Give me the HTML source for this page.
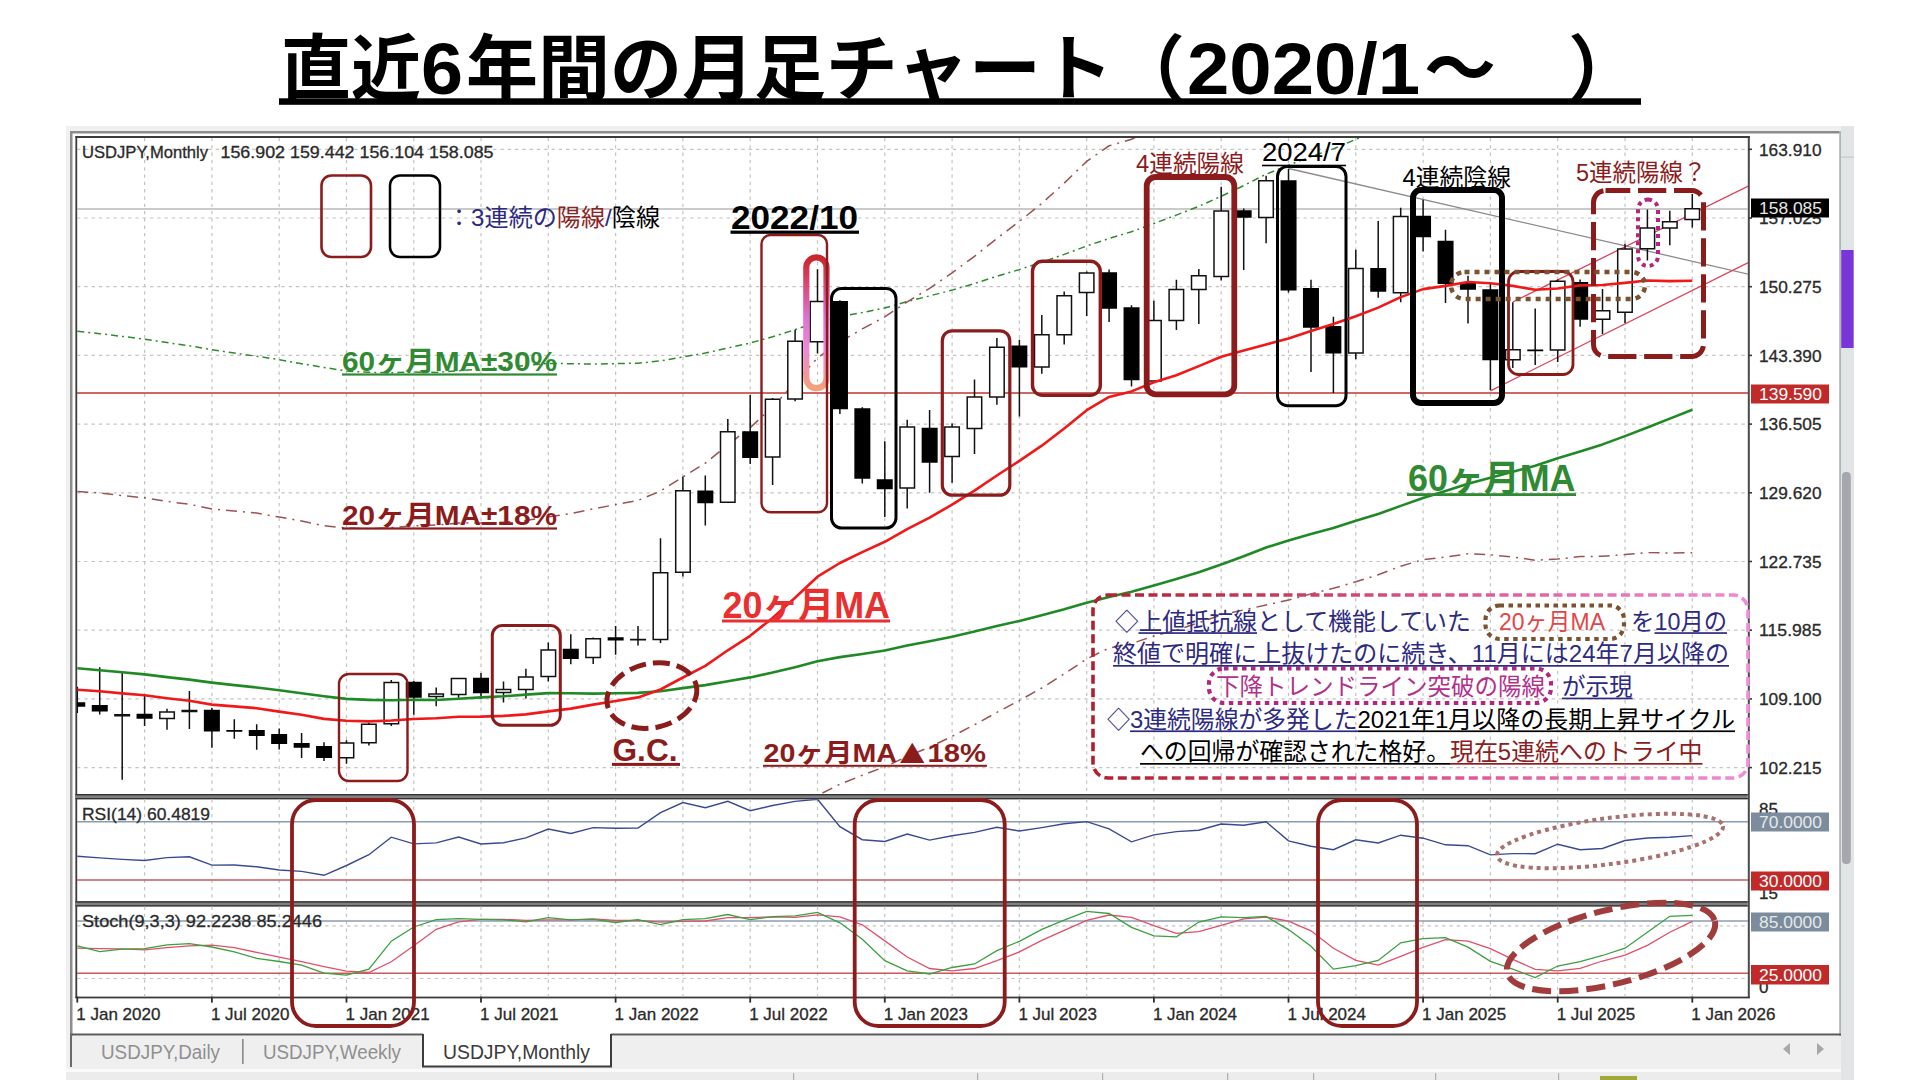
<!DOCTYPE html>
<html lang="ja"><head><meta charset="utf-8"><title>直近6年間の月足チャート</title>
<style>html,body{margin:0;padding:0;background:#fff;}body{width:1920px;height:1080px;overflow:hidden;font-family:"Liberation Sans","Noto Sans CJK JP",sans-serif;}svg{display:block;}text{white-space:pre;}</style>
</head><body>
<svg width="1920" height="1080" viewBox="0 0 1920 1080">
<rect width="1920" height="1080" fill="#fff"/>
<defs>
<clipPath id="cm"><rect x="77" y="138" width="1671" height="656"/></clipPath>
<clipPath id="cr"><rect x="77" y="799.3" width="1671" height="101.90000000000009"/></clipPath>
<clipPath id="cs"><rect x="77" y="906.5" width="1671" height="90.10000000000002"/></clipPath>
<linearGradient id="gcap" x1="0" y1="0" x2="0" y2="1"><stop offset="0" stop-color="#c9252c"/><stop offset="0.12" stop-color="#d23a55"/><stop offset="0.45" stop-color="#e070d0"/><stop offset="0.7" stop-color="#ee88d8"/><stop offset="1" stop-color="#f6a07c"/></linearGradient>
<linearGradient id="gbox" x1="0" y1="0" x2="1" y2="0"><stop offset="0" stop-color="#b0202c"/><stop offset="0.5" stop-color="#dc5088"/><stop offset="1" stop-color="#f08cd8"/></linearGradient>
</defs>
<rect x="66" y="126" width="1788" height="954" fill="#f0f0f0"/>
<rect x="70" y="131" width="1771" height="905" fill="#ffffff"/>
<rect x="70" y="131" width="1771" height="2.5" fill="#8c8c8c"/>
<rect x="70" y="131" width="2.5" height="905" fill="#8c8c8c"/>
<rect x="1839.2" y="131" width="2" height="905" fill="#b0b6b6"/>
<rect x="1841" y="126" width="13" height="954" fill="#e1e5e6"/><rect x="1841" y="156.5" width="13" height="1.2" fill="#c4c9c9"/>
<rect x="1841.2" y="250" width="12.4" height="98" fill="#7a35d8"/>
<rect x="1842" y="472" width="8.8" height="392" rx="4" fill="#a6a6ae"/>
<rect x="70" y="1036" width="1771" height="33" fill="#efefef"/>
<rect x="66" y="1069" width="1775" height="3" fill="#fafafa"/>
<rect x="66" y="1072" width="1775" height="8" fill="#ececec"/>
<rect x="70" y="1033.5" width="1771" height="2" fill="#5a5a5a"/>
<rect x="70" y="1034" width="2" height="33" fill="#6a6a6a"/>
<rect x="423" y="1032" width="188" height="34" fill="#ffffff"/>
<path d="M423 1034 V1066.5 H611 V1034" fill="none" stroke="#3c3c3c" stroke-width="2"/>
<rect x="242" y="1039" width="1.6" height="25" fill="#8a8a8a"/>
<text x="101" y="1058.5" font-family="Liberation Sans, Noto Sans CJK JP, sans-serif" font-size="20" fill="#8f8f8f" textLength="119" lengthAdjust="spacingAndGlyphs">USDJPY,Daily</text>
<text x="263" y="1058.5" font-family="Liberation Sans, Noto Sans CJK JP, sans-serif" font-size="20" fill="#8f8f8f" textLength="138" lengthAdjust="spacingAndGlyphs">USDJPY,Weekly</text>
<text x="443" y="1058.5" font-family="Liberation Sans, Noto Sans CJK JP, sans-serif" font-size="20" fill="#3a3a3a" textLength="147" lengthAdjust="spacingAndGlyphs">USDJPY,Monthly</text>
<path d="M1783 1049 l7 -6 v12 z M1824 1049 l-7 -6 v12 z" fill="#a8a8a8"/>
<rect x="1600" y="1076" width="37" height="4" fill="#a0a83c"/>
<rect x="793" y="1073" width="1.2" height="7" fill="#b0b0b0"/>
<rect x="977" y="1073" width="1.2" height="7" fill="#b0b0b0"/>
<rect x="1102" y="1073" width="1.2" height="7" fill="#b0b0b0"/>
<rect x="1227" y="1073" width="1.2" height="7" fill="#b0b0b0"/>
<rect x="1313" y="1073" width="1.2" height="7" fill="#b0b0b0"/>
<rect x="1435" y="1073" width="1.2" height="7" fill="#b0b0b0"/>
<rect x="1558" y="1073" width="1.2" height="7" fill="#b0b0b0"/>
<rect x="75.4" y="136" width="1674.4" height="862" fill="#fff"/>
<rect x="75.4" y="136" width="1.8" height="862" fill="#3c3c3c"/>
<rect x="1747.8" y="136" width="2" height="862" fill="#4a4a4a"/>
<rect x="75.4" y="136" width="1674.4" height="2" fill="#3c3c3c"/>
<rect x="75.4" y="996.6" width="1674.4" height="1.8" fill="#3c3c3c"/>
<rect x="75.4" y="794" width="1672.4" height="5.2" fill="#808080"/>
<rect x="75.4" y="794" width="1672.4" height="1.4" fill="#333"/>
<rect x="75.4" y="798" width="1672.4" height="1.3" fill="#333"/>
<rect x="75.4" y="901.2" width="1672.4" height="5.2" fill="#808080"/>
<rect x="75.4" y="901.2" width="1672.4" height="1.4" fill="#333"/>
<rect x="75.4" y="905.2" width="1672.4" height="1.3" fill="#333"/>
<path d="M144.6 138V794M144.6 799.3V901.2M144.6 906.5V996.6M211.9 138V794M211.9 799.3V901.2M211.9 906.5V996.6M279.2 138V794M279.2 799.3V901.2M279.2 906.5V996.6M346.5 138V794M346.5 799.3V901.2M346.5 906.5V996.6M413.8 138V794M413.8 799.3V901.2M413.8 906.5V996.6M481 138V794M481 799.3V901.2M481 906.5V996.6M548.3 138V794M548.3 799.3V901.2M548.3 906.5V996.6M615.6 138V794M615.6 799.3V901.2M615.6 906.5V996.6M682.9 138V794M682.9 799.3V901.2M682.9 906.5V996.6M750.2 138V794M750.2 799.3V901.2M750.2 906.5V996.6M817.5 138V794M817.5 799.3V901.2M817.5 906.5V996.6M884.8 138V794M884.8 799.3V901.2M884.8 906.5V996.6M952.1 138V794M952.1 799.3V901.2M952.1 906.5V996.6M1019.4 138V794M1019.4 799.3V901.2M1019.4 906.5V996.6M1086.7 138V794M1086.7 799.3V901.2M1086.7 906.5V996.6M1153.9 138V794M1153.9 799.3V901.2M1153.9 906.5V996.6M1221.2 138V794M1221.2 799.3V901.2M1221.2 906.5V996.6M1288.5 138V794M1288.5 799.3V901.2M1288.5 906.5V996.6M1355.8 138V794M1355.8 799.3V901.2M1355.8 906.5V996.6M1423.1 138V794M1423.1 799.3V901.2M1423.1 906.5V996.6M1490.4 138V794M1490.4 799.3V901.2M1490.4 906.5V996.6M1557.7 138V794M1557.7 799.3V901.2M1557.7 906.5V996.6M1625 138V794M1625 799.3V901.2M1625 906.5V996.6M1692.3 138V794M1692.3 799.3V901.2M1692.3 906.5V996.6M77 149.3H1748M77 218H1748M77 286.7H1748M77 355.4H1748M77 424.1H1748M77 492.8H1748M77 561.5H1748M77 630.2H1748M77 698.9H1748M77 767.6H1748M77 925.9H1748M77 978.5H1748" fill="none" stroke="#c4c4c4" stroke-width="1.2" stroke-dasharray="3.3 4"/>
<g clip-path="url(#cm)">
<path d="M77 209H1748" stroke="#b8b8b8" stroke-width="1.6"/>
<path d="M77 393H1748" stroke="#c03434" stroke-width="1.3"/>
<polyline points="77.3,331.2 99.7,333.7 122.2,336.4 144.6,339.1 167,342.6 189.4,345.8 211.9,349.7 234.3,353.1 256.7,356.2 279.2,359.7 301.6,363.7 324,367.4 346.5,371 368.9,372.3 391.3,372.7 413.8,372.1 436.2,372.4 458.6,370.7 481,369 503.5,367.6 525.9,365.4 548.3,363.4 570.8,363.7 593.2,364.1 615.6,363.6 638,363.2 660.5,360.9 682.9,356.9 705.3,353.1 727.8,348 750.2,343 772.6,336.7 795.1,329.7 817.5,322.1 839.9,316.6 862.3,312.6 884.8,308 907.2,301.6 929.6,295.9 952.1,290.1 974.5,283.5 996.9,276.2 1019.4,269.6 1041.8,262.2 1064.2,254.4 1086.7,246 1109.1,238.5 1131.5,231.7 1153.9,223.5 1176.4,215.1 1198.8,206.3 1221.2,196.3 1243.7,185.6 1266.1,174.2 1288.5,165.2 1311,156.6 1333.4,148.9 1355.8,139.3 1378.2,130.6 1400.7,120 1423.1,109.8 1445.5,100.6 1468,91.4 1490.4,83.6 1512.8,75.7 1535.2,67.9 1557.7,58.2 1580.1,49.3 1602.5,40.1 1625,29.4 1647.4,18.1 1669.8,6.5 1692.3,-5" fill="none" stroke="#2f8a2f" stroke-width="1.5" stroke-dasharray="7 4 2 4"/>
<polyline points="77.3,491.4 99.7,493 122.2,495.6 144.6,497.9 167,501.4 189.4,504.3 211.9,508.9 234.3,511 256.7,513.1 279.2,517.1 301.6,520.9 324,525.8 346.5,527.9 368.9,528.7 391.3,527.6 413.8,525.8 436.2,525 458.6,523.1 481,523 503.5,522.2 525.9,520.5 548.3,516.9 570.8,513.5 593.2,508.9 615.6,504.6 638,500.4 660.5,491.1 682.9,476.9 705.3,463.2 727.8,444.8 750.2,427.7 772.6,406.6 795.1,382.9 817.5,358 839.9,341.8 862.3,328.9 884.8,316.8 907.2,301.9 929.6,288.3 952.1,272.8 974.5,256.3 996.9,238.5 1019.4,221.3 1041.8,203.4 1064.2,183.1 1086.7,161.4 1109.1,145.8 1131.5,139.3 1153.9,128.5 1176.4,120.1 1198.8,109.4 1221.2,98.3 1243.7,91 1266.1,83.8 1288.5,76.8 1311,67.9 1333.4,59.9 1355.8,50.5 1378.2,40.4 1400.7,28 1423.1,18.6 1445.5,14.8 1468,10.2 1490.4,11.6 1512.8,14.8 1535.2,19.4 1557.7,17.8 1580.1,14.3 1602.5,13.7 1625,11.3 1647.4,8.5 1669.8,9.1 1692.3,8.6" fill="none" stroke="#9c5252" stroke-width="1.5" stroke-dasharray="11 6 2 6"/>
<polyline points="77.3,888.2 99.7,889.3 122.2,891.1 144.6,892.7 167,895.1 189.4,897.2 211.9,900.3 234.3,901.8 256.7,903.3 279.2,906 301.6,908.7 324,912.1 346.5,913.6 368.9,914.1 391.3,913.3 413.8,912.1 436.2,911.5 458.6,910.3 481,910.2 503.5,909.6 525.9,908.4 548.3,905.9 570.8,903.6 593.2,900.3 615.6,897.4 638,894.5 660.5,888 682.9,878.1 705.3,868.6 727.8,855.8 750.2,843.9 772.6,829.3 795.1,812.8 817.5,795.5 839.9,784.2 862.3,775.3 884.8,766.8 907.2,756.5 929.6,747.1 952.1,736.3 974.5,724.8 996.9,712.4 1019.4,700.5 1041.8,688 1064.2,673.9 1086.7,658.9 1109.1,648 1131.5,643.5 1153.9,636 1176.4,630.2 1198.8,622.7 1221.2,615 1243.7,609.9 1266.1,605 1288.5,600.1 1311,593.9 1333.4,588.3 1355.8,581.8 1378.2,574.8 1400.7,566.2 1423.1,559.6 1445.5,557 1468,553.8 1490.4,554.8 1512.8,557 1535.2,560.2 1557.7,559.1 1580.1,556.6 1602.5,556.2 1625,554.6 1647.4,552.6 1669.8,553.1 1692.3,552.7" fill="none" stroke="#9c5252" stroke-width="1.5" stroke-dasharray="11 6 2 6"/>
<path d="M1288.5 168.5 L1749 274.3" stroke="#8c8c8c" stroke-width="1.3"/>
<path d="M1512.8 302 L1749 185.8" stroke="#e0405a" stroke-width="1.3"/>
<path d="M1490.4 390.8 L1749 262.3" stroke="#e0405a" stroke-width="1.3"/>
<path d="M77.3 686.7V713.1M99.7 667.2V714.5M122.2 672.4V779.8M144.6 695.8V726.1M167 708.8V729.8M189.4 691.1V729M211.9 708V747.8M234.3 719.2V738.7M256.7 724.2V749.7M279.2 728.6V749.4M301.6 732.9V757.9M324 742.2V760.9M346.5 740.3V763.8M368.9 722.8V745.6M391.3 679.9V726M413.8 681.1V714.8M436.2 687.6V706.2M458.6 678.4V697.7M481 672.9V698.9M503.5 681.6V702.4M525.9 668.7V698.5M548.3 642.5V681.4M570.8 634.3V664.2M593.2 637.4V663.9M615.6 625.9V654.8M638 626V645.4M660.5 538.3V643M682.9 476.6V576.5M705.3 475.6V525.6M727.8 419V502.7M750.2 395V464.1M772.6 398.1V485.1M795.1 329.8V401.2M817.5 269.3V353.5M839.9 300.2V414M862.3 407.2V483.4M884.8 441.3V517M907.2 419.8V508.4M929.6 409.9V492.8M952.1 423.4V482.8M974.5 379.6V454.1M996.9 338.1V404.7M1019.4 339.7V416.6M1041.8 315.1V373.8M1064.2 291.6V344.4M1086.7 271.5V316.1M1109.1 269.6V322.1M1131.5 305.2V386.4M1153.9 300.7V381.9M1176.4 279.8V329.9M1198.8 269V324M1221.2 186.8V280.6M1243.7 208.6V270.1M1266.1 175.7V243.2M1288.5 168.9V292.6M1311 279.8V371.9M1333.4 316.7V393.1M1355.8 249.8V359.2M1378.2 221.1V297.8M1400.7 207.7V302.2M1423.1 199.8V251.4M1445.5 229.7V303M1468 275.7V323.4M1490.4 283.8V390M1512.8 302.2V367.9M1535.2 308.4V365.1M1557.7 279.5V362.1M1580.1 279.5V326.7M1602.5 289.1V334M1625 243.7V322.9M1647.4 209.6V260.4M1669.8 210.8V245.2M1692.3 194.1V227.5" stroke="#111" stroke-width="1.5" fill="none"/>
<path d="M114.9 714.8h14.5v1h-14.5zM159.8 711.9h14.5v6.7h-14.5zM182.2 710.4h14.5v1.2h-14.5zM339.2 742.9h14.5v14.8h-14.5zM361.6 724.2h14.5v18.5h-14.5zM384.1 682.6h14.5v41.1h-14.5zM428.9 694.1h14.5v2.5h-14.5zM451.4 678.6h14.5v16h-14.5zM496.2 689.6h14.5v3h-14.5zM518.6 676.9h14.5v12.7h-14.5zM541.1 650h14.5v26.6h-14.5zM585.9 638.7h14.5v18.8h-14.5zM630.8 639.5h14.5v0.2h-14.5zM653.2 572.7h14.5v66.7h-14.5zM675.7 490.8h14.5v81.5h-14.5zM720.5 431.8h14.5v70.4h-14.5zM765.4 399.3h14.5v57.7h-14.5zM787.8 341.3h14.5v57.6h-14.5zM810.2 301.6h14.5v40.2h-14.5zM900 427h14.5v61.1h-14.5zM944.8 427h14.5v29.6h-14.5zM967.2 396.9h14.5v31.6h-14.5zM989.7 347.3h14.5v49.6h-14.5zM1034.5 334.8h14.5v32.1h-14.5zM1057 295.7h14.5v39.1h-14.5zM1079.4 273h14.5v19.5h-14.5zM1146.7 320.5h14.5v60.4h-14.5zM1169.1 289.5h14.5v31h-14.5zM1191.5 275.7h14.5v13.8h-14.5zM1214 211h14.5v65.6h-14.5zM1258.8 180.7h14.5v36.9h-14.5zM1348.6 268.4h14.5v84.5h-14.5zM1393.4 216.5h14.5v76.2h-14.5zM1505.6 349.8h14.5v10h-14.5zM1550.4 281.2h14.5v68.9h-14.5zM1595.3 310.8h14.5v8.5h-14.5zM1617.7 249.1h14.5v63.1h-14.5zM1640.1 227.9h14.5v20.9h-14.5zM1662.6 221.8h14.5v6.1h-14.5zM1685 208.8h14.5v10.7h-14.5z" stroke="#111" stroke-width="1.5" fill="#fff"/>
<path d="M70 702.9h14.5v3.2h-14.5zM92.5 705.8h14.5v4.9h-14.5zM137.3 714.6h14.5v3.3h-14.5zM204.6 710.6h14.5v20.2h-14.5zM227.1 730.7h14.5v0.2h-14.5zM249.5 730.7h14.5v4.5h-14.5zM271.9 734.7h14.5v8.6h-14.5zM294.4 743.7h14.5v3.3h-14.5zM316.8 746.7h14.5v10.6h-14.5zM406.5 682.6h14.5v14.3h-14.5zM473.8 678.6h14.5v14h-14.5zM563.5 649.5h14.5v8.7h-14.5zM608.4 638.1h14.5v1.6h-14.5zM698.1 491.2h14.5v11.2h-14.5zM742.9 432h14.5v25.2h-14.5zM832.7 301.7h14.5v106.9h-14.5zM855.1 409h14.5v69.1h-14.5zM877.5 480.1h14.5v8.5h-14.5zM922.4 428.5h14.5v33.6h-14.5zM1012.1 346.3h14.5v20.5h-14.5zM1101.8 273h14.5v35.1h-14.5zM1124.3 308h14.5v71.5h-14.5zM1236.4 211h14.5v6h-14.5zM1281.3 181h14.5v108.7h-14.5zM1303.7 288.7h14.5v38.4h-14.5zM1326.1 326.8h14.5v25.9h-14.5zM1371 268.7h14.5v22.3h-14.5zM1415.8 216.5h14.5v20.1h-14.5zM1438.3 241.6h14.5v41.6h-14.5zM1460.7 282.7h14.5v6.4h-14.5zM1483.1 290h14.5v69.4h-14.5zM1528 350.3h14.5v0.3h-14.5zM1572.9 282.7h14.5v36.4h-14.5z" stroke="#000" stroke-width="1.5" fill="#000"/>
<polyline points="77.3,668.3 99.7,670.2 122.2,672.3 144.6,674.4 167,677.1 189.4,679.6 211.9,682.6 234.3,685.1 256.7,687.5 279.2,690.2 301.6,693.3 324,696.2 346.5,698.9 368.9,699.9 391.3,700.3 413.8,699.8 436.2,700 458.6,698.7 481,697.4 503.5,696.3 525.9,694.6 548.3,693.1 570.8,693.3 593.2,693.6 615.6,693.3 638,692.9 660.5,691.2 682.9,688.1 705.3,685.1 727.8,681.2 750.2,677.4 772.6,672.6 795.1,667.2 817.5,661.3 839.9,657.1 862.3,654 884.8,650.5 907.2,645.6 929.6,641.2 952.1,636.7 974.5,631.6 996.9,626 1019.4,620.9 1041.8,615.2 1064.2,609.3 1086.7,602.8 1109.1,597 1131.5,591.8 1153.9,585.4 1176.4,579 1198.8,572.2 1221.2,564.5 1243.7,556.3 1266.1,547.5 1288.5,540.6 1311,534 1333.4,528.1 1355.8,520.7 1378.2,514 1400.7,505.9 1423.1,498 1445.5,490.9 1468,483.8 1490.4,477.8 1512.8,471.8 1535.2,465.8 1557.7,458.3 1580.1,451.4 1602.5,444.4 1625,436.1 1647.4,427.5 1669.8,418.6 1692.3,409.7" fill="none" stroke="#1f8a25" stroke-width="2.6" stroke-linejoin="round"/>
<polyline points="77.3,689.8 99.7,691.2 122.2,693.4 144.6,695.3 167,698.3 189.4,700.8 211.9,704.6 234.3,706.4 256.7,708.2 279.2,711.6 301.6,714.8 324,718.9 346.5,720.7 368.9,721.4 391.3,720.5 413.8,719 436.2,718.2 458.6,716.7 481,716.6 503.5,715.9 525.9,714.4 548.3,711.4 570.8,708.6 593.2,704.6 615.6,701 638,697.4 660.5,689.5 682.9,677.5 705.3,665.9 727.8,650.3 750.2,635.8 772.6,617.9 795.1,597.8 817.5,576.7 839.9,563 862.3,552.1 884.8,541.8 907.2,529.2 929.6,517.7 952.1,504.6 974.5,490.6 996.9,475.5 1019.4,460.9 1041.8,445.7 1064.2,428.5 1086.7,410.2 1109.1,396.9 1131.5,391.4 1153.9,382.3 1176.4,375.2 1198.8,366.1 1221.2,356.7 1243.7,350.5 1266.1,344.4 1288.5,338.5 1311,330.9 1333.4,324.1 1355.8,316.2 1378.2,307.6 1400.7,297.1 1423.1,289.1 1445.5,285.9 1468,282 1490.4,283.2 1512.8,285.9 1535.2,289.8 1557.7,288.5 1580.1,285.4 1602.5,285 1625,282.9 1647.4,280.5 1669.8,281.1 1692.3,280.7" fill="none" stroke="#f01818" stroke-width="2.6" stroke-linejoin="round"/>
</g>
<g clip-path="url(#cr)">
<path d="M77 821.7H1748" stroke="#8a9cb0" stroke-width="1.5"/>
<path d="M77 880H1748" stroke="#c85a5a" stroke-width="1.5"/>
<polyline points="77.3,856.3 99.7,857.9 122.2,859.4 144.6,860.5 167,857.6 189.4,856.8 211.9,865.1 234.3,865 256.7,866.8 279.2,870 301.6,871.4 324,875.3 346.5,865.5 368.9,854.7 391.3,837.2 413.8,843.9 436.2,842.9 458.6,837.1 481,844 503.5,842.8 525.9,837.9 548.3,829.1 570.8,833.5 593.2,827.6 615.6,828.2 638,828.1 660.5,812.7 682.9,802.6 705.3,807.7 727.8,801.3 750.2,810.7 772.6,805.5 795.1,801.4 817.5,799.2 839.9,826.7 862.3,839.7 884.8,841.5 907.2,834 929.6,840.1 952.1,835.8 974.5,832.4 996.9,827.2 1019.4,831 1041.8,827.6 1064.2,823.7 1086.7,821.6 1109.1,828.9 1131.5,841.8 1153.9,834.9 1176.4,831.6 1198.8,830.2 1221.2,824 1243.7,825.2 1266.1,821.8 1288.5,840.9 1311,846.2 1333.4,849.7 1355.8,839.8 1378.2,843 1400.7,835.2 1423.1,838.2 1445.5,844.8 1468,845.7 1490.4,854.9 1512.8,853.6 1535.2,853.7 1557.7,844.2 1580.1,849.7 1602.5,848.5 1625,840.5 1647.4,838 1669.8,837.3 1692.3,835.6" fill="none" stroke="#3a4a90" stroke-width="1.4"/>
</g>
<g clip-path="url(#cs)">
<path d="M77 921H1748" stroke="#8a9cb0" stroke-width="1.5"/>
<path d="M77 973.3H1748" stroke="#c85a5a" stroke-width="1.5"/>
<polyline points="77.3,948.2 99.7,948.6 122.2,948.9 144.6,949.8 167,947.6 189.4,945.8 211.9,945.2 234.3,947.6 256.7,952.4 279.2,957.2 301.6,961.7 324,966.6 346.5,971.2 368.9,972.5 391.3,961.8 413.8,945.8 436.2,929.3 458.6,921.8 481,919.3 503.5,919.3 525.9,920.4 548.3,919.8 570.8,919.8 593.2,918.9 615.6,920.5 638,920.4 660.5,922.2 682.9,921.3 705.3,921 727.8,917.6 750.2,917.6 772.6,916.9 795.1,917.3 817.5,914.9 839.9,916.9 862.3,924.8 884.8,940.9 907.2,957 929.6,968.5 952.1,970.8 974.5,968.5 996.9,960.7 1019.4,951.9 1041.8,940.4 1064.2,930.3 1086.7,920.3 1109.1,915 1131.5,917.4 1153.9,925.6 1176.4,933.4 1198.8,931.6 1221.2,925.3 1243.7,918.9 1266.1,917 1288.5,921.2 1311,930.8 1333.4,948.3 1355.8,960.3 1378.2,965.1 1400.7,956.3 1423.1,947.3 1445.5,939.7 1468,941.2 1490.4,948.7 1512.8,959.3 1535.2,969.4 1557.7,970.9 1580.1,968.4 1602.5,961 1625,955.1 1647.4,945.3 1669.8,932.2 1692.3,921.3" fill="none" stroke="#e0506a" stroke-width="1.3"/>
<polyline points="77.3,945.8 99.7,951.6 122.2,949.2 144.6,948.7 167,944.8 189.4,943.7 211.9,947 234.3,951.9 256.7,958.3 279.2,961.5 301.6,965.2 324,973.2 346.5,975.1 368.9,969.1 391.3,941.2 413.8,927 436.2,919.7 458.6,918.7 481,919.3 503.5,919.8 525.9,921.9 548.3,917.7 570.8,919.8 593.2,919.3 615.6,922.5 638,919.6 660.5,924.7 682.9,919.6 705.3,918.7 727.8,914.5 750.2,919.7 772.6,916.6 795.1,915.8 817.5,912.3 839.9,922.8 862.3,939.3 884.8,960.7 907.2,970.9 929.6,974 952.1,967.5 974.5,964 996.9,950.6 1019.4,941.3 1041.8,929.4 1064.2,920.2 1086.7,911.3 1109.1,913.5 1131.5,927.3 1153.9,935.9 1176.4,936.9 1198.8,922 1221.2,916.9 1243.7,917.7 1266.1,916.4 1288.5,929.6 1311,946.3 1333.4,969.1 1355.8,965.7 1378.2,960.4 1400.7,942.8 1423.1,938.7 1445.5,937.7 1468,947.1 1490.4,961.4 1512.8,969.2 1535.2,977.5 1557.7,966 1580.1,961.6 1602.5,955.5 1625,948.2 1647.4,932.3 1669.8,916.3 1692.3,915.3" fill="none" stroke="#3aa040" stroke-width="1.3"/>
</g>
<rect x="1748" y="148.5" width="4" height="1.6" fill="#3a3a3a"/>
<rect x="1748" y="217.2" width="4" height="1.6" fill="#3a3a3a"/>
<rect x="1748" y="285.9" width="4" height="1.6" fill="#3a3a3a"/>
<rect x="1748" y="354.6" width="4" height="1.6" fill="#3a3a3a"/>
<rect x="1748" y="423.3" width="4" height="1.6" fill="#3a3a3a"/>
<rect x="1748" y="492" width="4" height="1.6" fill="#3a3a3a"/>
<rect x="1748" y="560.7" width="4" height="1.6" fill="#3a3a3a"/>
<rect x="1748" y="629.4" width="4" height="1.6" fill="#3a3a3a"/>
<rect x="1748" y="698.1" width="4" height="1.6" fill="#3a3a3a"/>
<rect x="1748" y="766.8" width="4" height="1.6" fill="#3a3a3a"/>
<g font-family="Liberation Sans, Noto Sans CJK JP, sans-serif" font-size="17" fill="#2a2a2a" stroke="#2a2a2a" stroke-width="0.3"><text x="1759" y="155.5" textLength="62.5" lengthAdjust="spacingAndGlyphs">163.910</text><text x="1759" y="224.2" textLength="62.5" lengthAdjust="spacingAndGlyphs">157.025</text><text x="1759" y="292.9" textLength="62.5" lengthAdjust="spacingAndGlyphs">150.275</text><text x="1759" y="361.6" textLength="62.5" lengthAdjust="spacingAndGlyphs">143.390</text><text x="1759" y="430.3" textLength="62.5" lengthAdjust="spacingAndGlyphs">136.505</text><text x="1759" y="499" textLength="62.5" lengthAdjust="spacingAndGlyphs">129.620</text><text x="1759" y="567.7" textLength="62.5" lengthAdjust="spacingAndGlyphs">122.735</text><text x="1759" y="636.4" textLength="62.5" lengthAdjust="spacingAndGlyphs">115.985</text><text x="1759" y="705.1" textLength="62.5" lengthAdjust="spacingAndGlyphs">109.100</text><text x="1759" y="773.8" textLength="62.5" lengthAdjust="spacingAndGlyphs">102.215</text></g>
<g font-family="Liberation Sans, Noto Sans CJK JP, sans-serif" font-size="17" fill="#2a2a2a" stroke="#2a2a2a" stroke-width="0.3"><text x="1759" y="815">85</text><text x="1759" y="899">15</text><text x="1759" y="993">0</text></g>
<rect x="1751" y="198.5" width="78" height="19.0" fill="#000"/>
<text x="1759" y="214.2" font-family="Liberation Sans, Noto Sans CJK JP, sans-serif" font-size="17" fill="#e8e8e8" textLength="63" lengthAdjust="spacingAndGlyphs">158.085</text>
<rect x="1751" y="384.5" width="78" height="19.0" fill="#c22a2a"/>
<text x="1759" y="400.2" font-family="Liberation Sans, Noto Sans CJK JP, sans-serif" font-size="17" fill="#fff" textLength="63" lengthAdjust="spacingAndGlyphs">139.590</text>
<rect x="1751" y="812.5" width="78" height="19.0" fill="#7d8c9c"/>
<text x="1759" y="828.2" font-family="Liberation Sans, Noto Sans CJK JP, sans-serif" font-size="17" fill="#e4e8ec" textLength="63" lengthAdjust="spacingAndGlyphs">70.0000</text>
<rect x="1751" y="871.5" width="78" height="19.0" fill="#c22a2a"/>
<text x="1759" y="887.2" font-family="Liberation Sans, Noto Sans CJK JP, sans-serif" font-size="17" fill="#fff" textLength="63" lengthAdjust="spacingAndGlyphs">30.0000</text>
<rect x="1751" y="912.5" width="78" height="19.0" fill="#7d8c9c"/>
<text x="1759" y="928.2" font-family="Liberation Sans, Noto Sans CJK JP, sans-serif" font-size="17" fill="#e4e8ec" textLength="63" lengthAdjust="spacingAndGlyphs">85.0000</text>
<rect x="1751" y="965" width="78" height="19.5" fill="#c22a2a"/>
<text x="1759" y="981" font-family="Liberation Sans, Noto Sans CJK JP, sans-serif" font-size="17" fill="#fff" textLength="63" lengthAdjust="spacingAndGlyphs">25.0000</text>
<rect x="76.4" y="996.6" width="1.8" height="6" fill="#2e2e2e"/>
<rect x="211" y="996.6" width="1.8" height="6" fill="#2e2e2e"/>
<rect x="345.6" y="996.6" width="1.8" height="6" fill="#2e2e2e"/>
<rect x="480.1" y="996.6" width="1.8" height="6" fill="#2e2e2e"/>
<rect x="614.7" y="996.6" width="1.8" height="6" fill="#2e2e2e"/>
<rect x="749.3" y="996.6" width="1.8" height="6" fill="#2e2e2e"/>
<rect x="883.9" y="996.6" width="1.8" height="6" fill="#2e2e2e"/>
<rect x="1018.5" y="996.6" width="1.8" height="6" fill="#2e2e2e"/>
<rect x="1153" y="996.6" width="1.8" height="6" fill="#2e2e2e"/>
<rect x="1287.6" y="996.6" width="1.8" height="6" fill="#2e2e2e"/>
<rect x="1422.2" y="996.6" width="1.8" height="6" fill="#2e2e2e"/>
<rect x="1556.8" y="996.6" width="1.8" height="6" fill="#2e2e2e"/>
<rect x="1691.4" y="996.6" width="1.8" height="6" fill="#2e2e2e"/>
<g font-family="Liberation Sans, Noto Sans CJK JP, sans-serif" font-size="17" fill="#2a2a2a" stroke="#2a2a2a" stroke-width="0.3"><text x="76.3" y="1019.5">1 Jan 2020</text><text x="210.9" y="1019.5">1 Jul 2020</text><text x="345.5" y="1019.5">1 Jan 2021</text><text x="480" y="1019.5">1 Jul 2021</text><text x="614.6" y="1019.5">1 Jan 2022</text><text x="749.2" y="1019.5">1 Jul 2022</text><text x="883.8" y="1019.5">1 Jan 2023</text><text x="1018.4" y="1019.5">1 Jul 2023</text><text x="1152.9" y="1019.5">1 Jan 2024</text><text x="1287.5" y="1019.5">1 Jul 2024</text><text x="1422.1" y="1019.5">1 Jan 2025</text><text x="1556.7" y="1019.5">1 Jul 2025</text><text x="1691.3" y="1019.5">1 Jan 2026</text></g>
<g font-family="Liberation Sans, Noto Sans CJK JP, sans-serif" font-size="17" fill="#2a2a2a" stroke="#2a2a2a" stroke-width="0.3"><text x="82" y="157.5" textLength="126" lengthAdjust="spacingAndGlyphs">USDJPY,Monthly</text><text x="220.5" y="157.5" textLength="273" lengthAdjust="spacingAndGlyphs">156.902 159.442 156.104 158.085</text><text x="82" y="819.5" textLength="128" lengthAdjust="spacingAndGlyphs">RSI(14) 60.4819</text><text x="82" y="927" textLength="240" lengthAdjust="spacingAndGlyphs">Stoch(9,3,3) 92.2238 85.2446</text></g>
<rect x="806.3" y="257.4" width="20.2" height="130.8" rx="10.1" fill="none" stroke="url(#gcap)" stroke-width="6.2" />
<rect x="321.5" y="175.5" width="49.5" height="81.5" rx="10" fill="none" stroke="#8c1c1c" stroke-width="2.6" />
<rect x="390" y="175.5" width="50" height="81.5" rx="10" fill="none" stroke="#000" stroke-width="2.5" />
<rect x="339" y="674" width="68.5" height="107" rx="10" fill="none" stroke="#8c1c1c" stroke-width="2.4" />
<rect x="492.3" y="625.5" width="68" height="99.8" rx="10" fill="none" stroke="#8c1c1c" stroke-width="3" />
<rect x="761.5" y="235" width="65.5" height="277.3" rx="9" fill="none" stroke="#8c1c1c" stroke-width="2.4" />
<rect x="831.5" y="288.5" width="64.5" height="239.5" rx="10" fill="none" stroke="#000" stroke-width="3" />
<rect x="942.3" y="330.8" width="67.5" height="164.4" rx="10" fill="none" stroke="#8c1c1c" stroke-width="3.2" />
<rect x="1032.5" y="261.3" width="67.8" height="134" rx="10" fill="none" stroke="#8c1c1c" stroke-width="3.4" />
<rect x="1146.7" y="177" width="87.6" height="217.3" rx="9" fill="none" stroke="#8c1c1c" stroke-width="5.8" />
<rect x="1277.5" y="166.5" width="68.5" height="239.2" rx="10" fill="none" stroke="#000" stroke-width="3" />
<rect x="1413" y="190" width="89" height="213" rx="8" fill="none" stroke="#000" stroke-width="6" />
<rect x="1508.5" y="271.5" width="64.5" height="103" rx="10" fill="none" stroke="#8c1c1c" stroke-width="2.8" />
<rect x="1593.5" y="190.5" width="110" height="166" rx="12" fill="none" stroke="#8c1c1c" stroke-width="5" stroke-dasharray="28.3 7.7" stroke-dashoffset="3.5"/>
<rect x="1638" y="199.5" width="20" height="66.5" rx="10" fill="none" stroke="#b3267f" stroke-width="4" stroke-dasharray="4 4"/>
<rect x="1451" y="272" width="194" height="27" rx="13.5" fill="none" stroke="#7b5230" stroke-width="4.5" stroke-dasharray="5 5"/>
<rect x="292" y="800" width="122" height="226" rx="24" fill="none" stroke="#8c1c1c" stroke-width="3.8" />
<rect x="854.7" y="800" width="150" height="226" rx="24" fill="none" stroke="#8c1c1c" stroke-width="3.8" />
<rect x="1318" y="800" width="99" height="226" rx="24" fill="none" stroke="#8c1c1c" stroke-width="3.8" />
<ellipse cx="652" cy="695.5" rx="45.5" ry="32" transform="rotate(-13 652.3 696)" fill="none" stroke="#8c1c1c" stroke-width="5" stroke-dasharray="17 7"/>
<ellipse cx="1610" cy="841" rx="114" ry="23" transform="rotate(-7.5 1610 841)" fill="none" stroke="#a87070" stroke-width="4" stroke-dasharray="4 4"/>
<ellipse cx="1611" cy="947" rx="107" ry="37" transform="rotate(-14 1611 947)" fill="none" stroke="#a03c3c" stroke-width="6" stroke-dasharray="19 8"/>
<text x="447" y="226" font-family="Liberation Sans, Noto Sans CJK JP, sans-serif" font-size="23.6" textLength="213" lengthAdjust="spacingAndGlyphs"><tspan fill="#2d2a82">：3連続の</tspan><tspan fill="#8c2424">陽線</tspan><tspan fill="#2d2a82">/</tspan><tspan fill="#000">陰線</tspan></text>
<text x="731" y="228.8" font-family="Liberation Sans, Noto Sans CJK JP, sans-serif" font-size="33.5" font-weight="bold" fill="#000" text-anchor="start" textLength="127" lengthAdjust="spacingAndGlyphs">2022/10</text>
<rect x="730.5" y="230.6" width="128.5" height="3.2" fill="#000"/>
<text x="1136" y="172" font-family="Liberation Sans, Noto Sans CJK JP, sans-serif" font-size="23.6" font-weight="normal" fill="#8c1c1c" text-anchor="start" textLength="108" lengthAdjust="spacingAndGlyphs">4連続陽線</text>
<text x="1262" y="161" font-family="Liberation Sans, Noto Sans CJK JP, sans-serif" font-size="26.5" font-weight="normal" fill="#000" text-anchor="start" textLength="84" lengthAdjust="spacingAndGlyphs">2024/7</text>
<rect x="1262" y="164.7" width="84" height="1.6" fill="#000"/>
<text x="1402.5" y="186" font-family="Liberation Sans, Noto Sans CJK JP, sans-serif" font-size="23.6" font-weight="normal" fill="#000" text-anchor="start" textLength="108.5" lengthAdjust="spacingAndGlyphs">4連続陰線</text>
<text x="1576" y="181" font-family="Liberation Sans, Noto Sans CJK JP, sans-serif" font-size="23.6" font-weight="normal" fill="#8c1c1c" text-anchor="start" textLength="130.5" lengthAdjust="spacingAndGlyphs">5連続陽線？</text>
<text x="342" y="371" font-family="Liberation Sans, Noto Sans CJK JP, sans-serif" font-size="27" font-weight="bold" fill="#2f8a33" text-anchor="start" textLength="215" lengthAdjust="spacingAndGlyphs">60ヶ月MA±30%</text>
<rect x="342" y="373.4" width="215" height="2.2" fill="#2f8a33"/>
<text x="342" y="525" font-family="Liberation Sans, Noto Sans CJK JP, sans-serif" font-size="27" font-weight="bold" fill="#8c1c1c" text-anchor="start" textLength="215" lengthAdjust="spacingAndGlyphs">20ヶ月MA±18%</text>
<rect x="342" y="527.4" width="215" height="2.2" fill="#8c1c1c"/>
<text x="722.5" y="617.6" font-family="Liberation Sans, Noto Sans CJK JP, sans-serif" font-size="36" font-weight="bold" fill="#e83030" text-anchor="start" textLength="167.5" lengthAdjust="spacingAndGlyphs">20ヶ月MA</text>
<rect x="722" y="619.5" width="168" height="3" fill="#e83030"/>
<text x="1408" y="491" font-family="Liberation Sans, Noto Sans CJK JP, sans-serif" font-size="36" font-weight="bold" fill="#2f8a33" text-anchor="start" textLength="167.5" lengthAdjust="spacingAndGlyphs">60ヶ月MA</text>
<rect x="1407" y="493.2" width="169" height="2.8" fill="#2f8a33"/>
<text x="612.5" y="760.6" font-family="Liberation Sans, Noto Sans CJK JP, sans-serif" font-size="32" font-weight="bold" fill="#8c1c1c" text-anchor="start" textLength="65" lengthAdjust="spacingAndGlyphs">G.C.</text>
<rect x="612" y="762.9" width="68" height="3" fill="#8c1c1c"/>
<text x="763.5" y="762.2" font-family="Liberation Sans, Noto Sans CJK JP, sans-serif" font-size="26.5" font-weight="bold" fill="#8c1c1c" text-anchor="start" textLength="133.5" lengthAdjust="spacingAndGlyphs">20ヶ月MA</text>
<text transform="translate(900 762.6) scale(1.2 1)" x="-6.9" y="0" font-family="Liberation Sans, Noto Sans CJK JP, sans-serif" font-size="34.5" font-weight="bold" fill="#8c1c1c">▲</text>
<text x="927.5" y="762.2" font-family="Liberation Sans, Noto Sans CJK JP, sans-serif" font-size="26.5" font-weight="bold" fill="#8c1c1c" text-anchor="start" textLength="58.5" lengthAdjust="spacingAndGlyphs">18%</text>
<rect x="763" y="764.8" width="224" height="2" fill="#8c1c1c"/>
<rect x="1093" y="595" width="655" height="183" rx="15" fill="none" stroke="url(#gbox)" stroke-width="3.6" stroke-dasharray="9 4.5"/>
<rect x="1485.5" y="605.5" width="138.5" height="33.5" rx="14" fill="none" stroke="#7b5230" stroke-width="4.2" stroke-dasharray="4.5 4.5"/>
<rect x="1209" y="668.5" width="342" height="34.5" rx="15" fill="none" stroke="#b3267f" stroke-width="4.2" stroke-dasharray="4.5 4.5"/>
<text x="1115" y="629.5" font-family="Liberation Sans, Noto Sans CJK JP, sans-serif" font-size="24" fill="#2d2a82" textLength="23.5" lengthAdjust="spacingAndGlyphs">◇</text>
<text x="1138.5" y="629.5" font-family="Liberation Sans, Noto Sans CJK JP, sans-serif" font-size="24" fill="#2d2a82" textLength="118.5" lengthAdjust="spacingAndGlyphs">上値抵抗線</text>
<rect x="1138.5" y="632.2" width="118.5" height="1.7" fill="#2d2a82"/>
<text x="1257" y="629.5" font-family="Liberation Sans, Noto Sans CJK JP, sans-serif" font-size="24" fill="#2d2a82" textLength="214" lengthAdjust="spacingAndGlyphs">として機能していた</text>
<text x="1499" y="629.5" font-family="Liberation Sans, Noto Sans CJK JP, sans-serif" font-size="24" fill="#e04848" textLength="106" lengthAdjust="spacingAndGlyphs">20ヶ月MA</text>
<text x="1631" y="629.5" font-family="Liberation Sans, Noto Sans CJK JP, sans-serif" font-size="24" fill="#2d2a82" textLength="23.5" lengthAdjust="spacingAndGlyphs">を</text>
<text x="1654.5" y="629.5" font-family="Liberation Sans, Noto Sans CJK JP, sans-serif" font-size="24" fill="#2d2a82" textLength="72.5" lengthAdjust="spacingAndGlyphs">10月の</text>
<rect x="1654.5" y="632.2" width="72.5" height="1.7" fill="#2d2a82"/>
<text x="1113" y="662.2" font-family="Liberation Sans, Noto Sans CJK JP, sans-serif" font-size="24" fill="#2d2a82" textLength="616" lengthAdjust="spacingAndGlyphs">終値で明確に上抜けたのに続き、11月には24年7月以降の</text>
<rect x="1113" y="665" width="616" height="1.7" fill="#2d2a82"/>
<text x="1216" y="694.9" font-family="Liberation Sans, Noto Sans CJK JP, sans-serif" font-size="24" fill="#b3308c" textLength="329" lengthAdjust="spacingAndGlyphs">下降トレンドライン突破の陽線</text>
<text x="1562" y="694.9" font-family="Liberation Sans, Noto Sans CJK JP, sans-serif" font-size="24" fill="#2d2a82" textLength="70.5" lengthAdjust="spacingAndGlyphs">が示現</text>
<rect x="1562" y="697.6" width="70.5" height="1.7" fill="#2d2a82"/>
<text x="1107" y="727.6" font-family="Liberation Sans, Noto Sans CJK JP, sans-serif" font-size="24" fill="#2d2a82" textLength="23" lengthAdjust="spacingAndGlyphs">◇</text>
<text x="1130" y="727.6" font-family="Liberation Sans, Noto Sans CJK JP, sans-serif" font-size="24" fill="#2d2a82" textLength="227.5" lengthAdjust="spacingAndGlyphs">3連続陽線が多発した</text>
<rect x="1130" y="730.4" width="227.5" height="1.7" fill="#2d2a82"/>
<text x="1357.5" y="727.6" font-family="Liberation Sans, Noto Sans CJK JP, sans-serif" font-size="24" fill="#000" textLength="377.5" lengthAdjust="spacingAndGlyphs">2021年1月以降の長期上昇サイクル</text>
<rect x="1357.5" y="730.4" width="377.5" height="1.7" fill="#000"/>
<text x="1140" y="760.3" font-family="Liberation Sans, Noto Sans CJK JP, sans-serif" font-size="24" fill="#000" textLength="310" lengthAdjust="spacingAndGlyphs">への回帰が確認された格好。</text>
<rect x="1140" y="763" width="310" height="1.7" fill="#000"/>
<text x="1450" y="760.3" font-family="Liberation Sans, Noto Sans CJK JP, sans-serif" font-size="24" fill="#8c2020" textLength="252.5" lengthAdjust="spacingAndGlyphs">現在5連続へのトライ中</text>
<rect x="1450" y="763" width="252.5" height="1.7" fill="#8c2020"/>
<g font-family="Liberation Sans, Noto Sans CJK JP, sans-serif" font-size="72" font-weight="bold" fill="#000"><text x="281" y="93.5" textLength="140" lengthAdjust="spacingAndGlyphs">直近</text><text x="421" y="93.5" textLength="42" lengthAdjust="spacingAndGlyphs">6</text><text x="466" y="93.5" textLength="719" lengthAdjust="spacingAndGlyphs">年間の月足チャート（</text><text x="1187" y="93.5" textLength="233" lengthAdjust="spacingAndGlyphs">2020/1</text><text x="1424" y="93.5" textLength="216" lengthAdjust="spacingAndGlyphs" xml:space="preserve">～　）</text></g>
<rect x="279" y="98.3" width="1362" height="6.5" fill="#000"/>
</svg>
</body></html>
